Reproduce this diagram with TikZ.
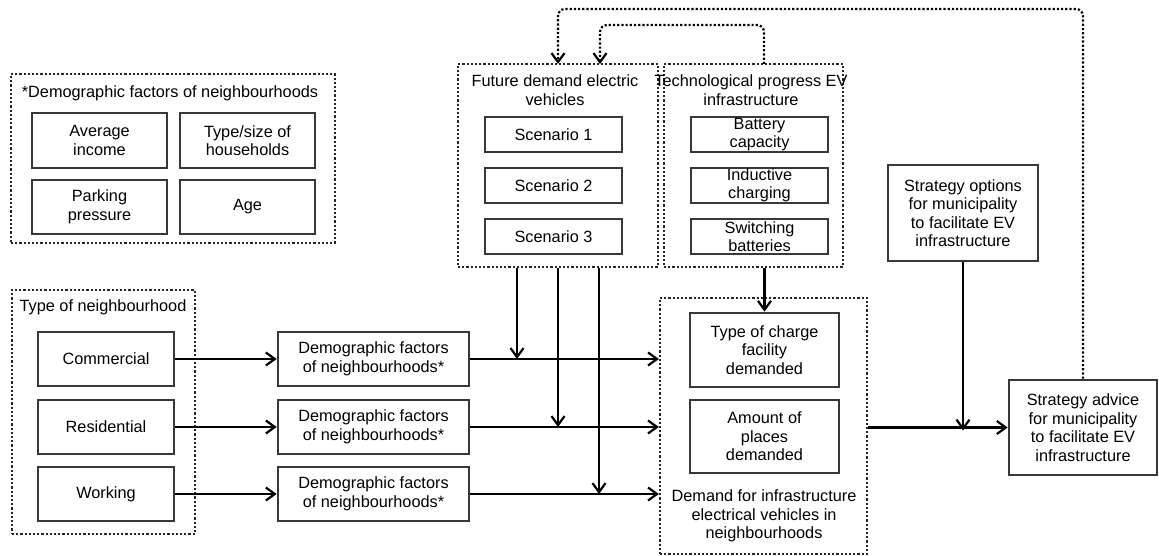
\documentclass[tikz,border=0pt]{standalone}
\usepackage{fontspec}
\setmainfont{Liberation Sans}
\usetikzlibrary{arrows.meta}
\begin{document}
\begin{tikzpicture}[x=1pt,y=-1pt,
  font=\fontsize{16.3}{18.5}\selectfont,
  box/.style={draw=black!78, line width=2.6pt, rectangle, align=center, inner sep=0pt},
  group/.style={draw=black!85, line width=2.2pt, dash pattern=on 2.2pt off 2pt, rectangle, inner sep=0pt},
  title/.style={align=center, inner sep=0pt},
  flow/.style={line width=2.4pt, -{Straight Barb[length=9pt,width=13pt,line width=2.2pt]}},
  feedback/.style={line width=2.2pt, dash pattern=on 2.2pt off 2pt, rounded corners=7pt,
    -{Straight Barb[length=9pt,width=13pt,line width=2.2pt]}}]
\useasboundingbox (0,0) rectangle (1159,556);

% demographic factors legend
\node[group, minimum width=324, minimum height=169] (gdemo) at (173,158.5) {};
\node[title] (tdemo) at (170,93) {*Demographic factors of neighbourhoods};
\node[box, minimum width=135, minimum height=55] (income) at (99.5,140.5) {Average\\income};
\node[box, minimum width=135, minimum height=55] (house) at (247.5,140.5) {Type/size of\\households};
\node[box, minimum width=135, minimum height=54] (parking) at (99.5,207) {Parking\\pressure};
\node[box, minimum width=135, minimum height=54] (age) at (247.5,207) {Age};

% future demand
\node[group, minimum width=200, minimum height=203] (gfut) at (558,165.5) {};
\node[title] (tfut) at (555,90) {Future demand electric\\vehicles};
\node[box, minimum width=137, minimum height=35] (sc1) at (553.5,134.5) {Scenario 1};
\node[box, minimum width=137, minimum height=35] (sc2) at (553.5,185.5) {Scenario 2};
\node[box, minimum width=137, minimum height=35] (sc3) at (553.5,236.5) {Scenario 3};

% technological progress
\node[group, minimum width=179, minimum height=203] (gtech) at (753.5,165.5) {};
\node[title] (ttech) at (751,90) {Technological progress EV\\infrastructure};
\node[box, minimum width=137, minimum height=35] (batt) at (759.5,134.5) {Battery\\capacity};
\node[box, minimum width=137, minimum height=35] (induct) at (759.5,185.5) {Inductive\\charging};
\node[box, minimum width=137, minimum height=35] (switch) at (759.5,236.5) {Switching\\batteries};

% type of neighbourhood
\node[group, minimum width=183, minimum height=244] (gtype) at (103.5,412) {};
\node[title] (ttype) at (103,307) {Type of neighbourhood};
\node[box, minimum width=136, minimum height=54] (com) at (106,359) {Commercial};
\node[box, minimum width=136, minimum height=54] (res) at (106,427) {Residential};
\node[box, minimum width=136, minimum height=54] (work) at (106,494) {Working};

\node[box, minimum width=191, minimum height=54] (dem1) at (373.5,359) {Demographic factors\\of neighbourhoods*};
\node[box, minimum width=191, minimum height=54] (dem2) at (373.5,427) {Demographic factors\\of neighbourhoods*};
\node[box, minimum width=191, minimum height=54] (dem3) at (373.5,494) {Demographic factors\\of neighbourhoods*};

% demand for infrastructure
\node[group, minimum width=207, minimum height=256] (gdem) at (763.5,426) {};
\node[box, minimum width=149, minimum height=74] (charge) at (764.5,350) {Type of charge\\facility\\demanded};
\node[box, minimum width=149, minimum height=73] (amount) at (764.5,436.5) {Amount of\\places\\demanded};
\node[title] (tdem) at (764,516) {Demand for infrastructure\\electrical vehicles in\\neighbourhoods};

% strategy
\node[box, minimum width=150, minimum height=96] (opt) at (963,213) {Strategy options\\for municipality\\to facilitate EV\\infrastructure};
\node[box, minimum width=148, minimum height=95] (adv) at (1083,427.5) {Strategy advice\\for municipality\\to facilitate EV\\infrastructure};

% flows from neighbourhood types
\draw[flow] (com.east) -- (dem1.west);
\draw[flow] (res.east) -- (dem2.west);
\draw[flow] (work.east) -- (dem3.west);
\draw[flow] (dem1.east) -- (dem1.east -| gdem.west);
\draw[flow] (dem2.east) -- (dem2.east -| gdem.west);
\draw[flow] (dem3.east) -- (dem3.east -| gdem.west);

% scenario inputs
\coordinate (v1) at (517,359);
\coordinate (v2) at (558,427);
\coordinate (v3) at (599,494);
\draw[flow] (v1 |- gfut.south) -- (v1);
\draw[flow] (v2 |- gfut.south) -- (v2);
\draw[flow] (v3 |- gfut.south) -- (v3);
\draw[flow] (charge.north |- gtech.south) -- (charge.north);

% towards strategy advice
\draw[flow] (gdem.east |- adv.west) -- (adv.west);
\draw[flow] (opt.south) -- ([yshift=-3]opt.south |- adv.west);

% feedback loops
\coordinate (fa) at (558,64);
\coordinate (fb) at (600,64);
\coordinate (tu) at (764,64);
\coordinate (topa) at (0,9);
\coordinate (topb) at (0,25);
\draw[feedback] (adv.north) -- (adv.north |- topa) -| (fa);
\draw[feedback] (tu) -- (tu |- topb) -| (fb);
\end{tikzpicture}
\end{document}
